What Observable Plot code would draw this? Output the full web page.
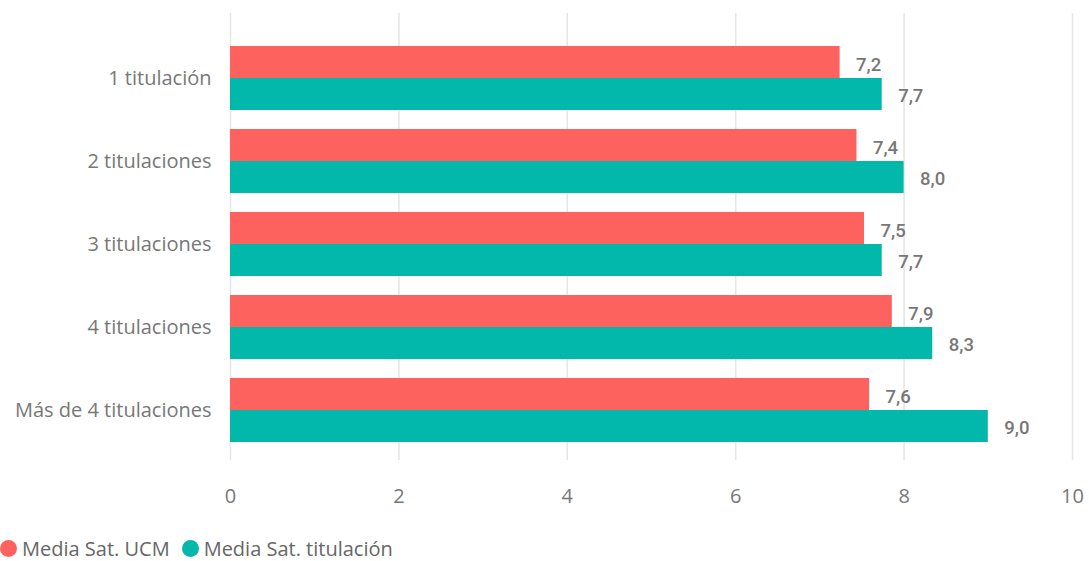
<!DOCTYPE html>
<html>
<head>
<meta charset="utf-8">
<script src="https://cdn.jsdelivr.net/npm/d3@7"></script>
<script src="https://cdn.jsdelivr.net/npm/@observablehq/plot@0.6"></script>
<style>
  body { margin: 0; background: #fff; font-family: "Open Sans", sans-serif; }
  #legend { height: 25px; line-height: 25px; display: flex; align-items: center; font-size: 20px; color: #666; white-space: nowrap; }
  .item { display: flex; align-items: center; margin-right: 12px; }
  .dot { width: 17px; height: 17px; border-radius: 50%; margin-right: 5px; }
</style>
</head>
<body>
<div id="chart"></div>
<div id="legend"></div>
<script>
const categories = ["1 titulación", "2 titulaciones", "3 titulaciones", "4 titulaciones", "Más de 4 titulaciones"];
const seriesNames = ["Media Sat. UCM", "Media Sat. titulación"];
const ucm = [7.24, 7.44, 7.53, 7.86, 7.59];
const titulacion = [7.74, 8.0, 7.74, 8.34, 9.0];
const xTicks = [0, 2, 4, 6, 8, 10];
const colors = ["#FD625E", "#01B8AA"];

const dataUcm = categories.map((c, i) => ({cat: c, v: ucm[i]}));
const dataTit = categories.map((c, i) => ({cat: c, v: titulacion[i]}));
const fmt = d => d.v.toFixed(1).replace(".", ",");

const labelFont = "Roboto, sans-serif";

const chart = Plot.plot({
  width: 1089,
  height: 536,
  marginTop: 13,
  marginBottom: 76,
  marginLeft: 230,
  marginRight: 17,
  style: {fontFamily: "'Open Sans', sans-serif", fontSize: "20px", color: "#777", background: "#fff"},
  x: {domain: [0, 10], ticks: xTicks, grid: true, label: null, tickSize: 0, tickPadding: 28},
  y: {domain: categories, label: null, tickSize: 0, tickPadding: 19, paddingInner: 0.229, paddingOuter: 0.307, align: 0.65},
  marks: [
    Plot.ruleX(xTicks, {stroke: "#e6e6e6", strokeWidth: 1.5, strokeOpacity: 1}),
    Plot.barX(dataUcm, {x: "v", y: "cat", fill: colors[0], insetBottom: 32}),
    Plot.barX(dataTit, {x: "v", y: "cat", fill: colors[1], insetTop: 32}),
    Plot.text(dataUcm, {x: "v", y: "cat", text: fmt, textAnchor: "start", dx: 16, dy: -13.5, fill: "#777", fontWeight: 500, fontFamily: labelFont, fontSize: 18.5}),
    Plot.text(dataTit, {x: "v", y: "cat", text: fmt, textAnchor: "start", dx: 16, dy: 18, fill: "#777", fontWeight: 500, fontFamily: labelFont, fontSize: 18.5})
  ]
});
document.getElementById("chart").appendChild(chart);

const legend = document.getElementById("legend");
seriesNames.forEach((name, i) => {
  const item = document.createElement("div");
  item.className = "item";
  const dot = document.createElement("span");
  dot.className = "dot";
  dot.style.background = colors[i];
  const label = document.createElement("span");
  label.textContent = name;
  item.appendChild(dot);
  item.appendChild(label);
  legend.appendChild(item);
});
</script>
</body>
</html>
